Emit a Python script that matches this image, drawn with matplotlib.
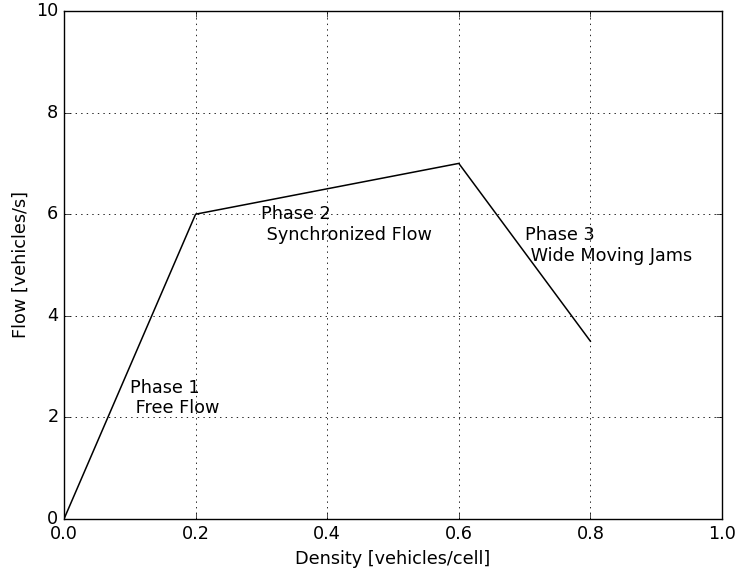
import matplotlib
matplotlib.use('Agg')
import matplotlib.pyplot as plt

# fundamental diagram, three phases
density = [0.0, 0.2, 0.6, 0.8]
flow = [0.0, 6.0, 7.0, 3.5]

phase_labels = ['Phase 1\n Free Flow', 'Phase 2\n Synchronized Flow', 'Phase 3\n Wide Moving Jams']
label_x = [0.1, 0.3, 0.7]
label_y = [2.08, 5.5, 5.08]

plt.style.use('classic')
plt.rcParams['font.size'] = 12.7
plt.rcParams['font.family'] = 'DejaVu Sans'

fig = plt.figure(figsize=(7.35, 5.71), dpi=100, facecolor='white')
ax = fig.add_axes([64/735., 1-519/571., 658/735., 508/571.])

ax.plot(density, flow, 'k-', linewidth=1.1)
for tx, ty, s in zip(label_x, label_y, phase_labels):
    ax.text(tx, ty, s)

ax.set_xlim(0, 1)
ax.set_ylim(0, 10)
ax.set_xlabel('Density [vehicles/cell]')
ax.set_ylabel('Flow [vehicles/s]')
ax.grid(True, color='k', linestyle=':', linewidth=0.6)

fig.savefig('out.png', dpi=100, facecolor='white')
